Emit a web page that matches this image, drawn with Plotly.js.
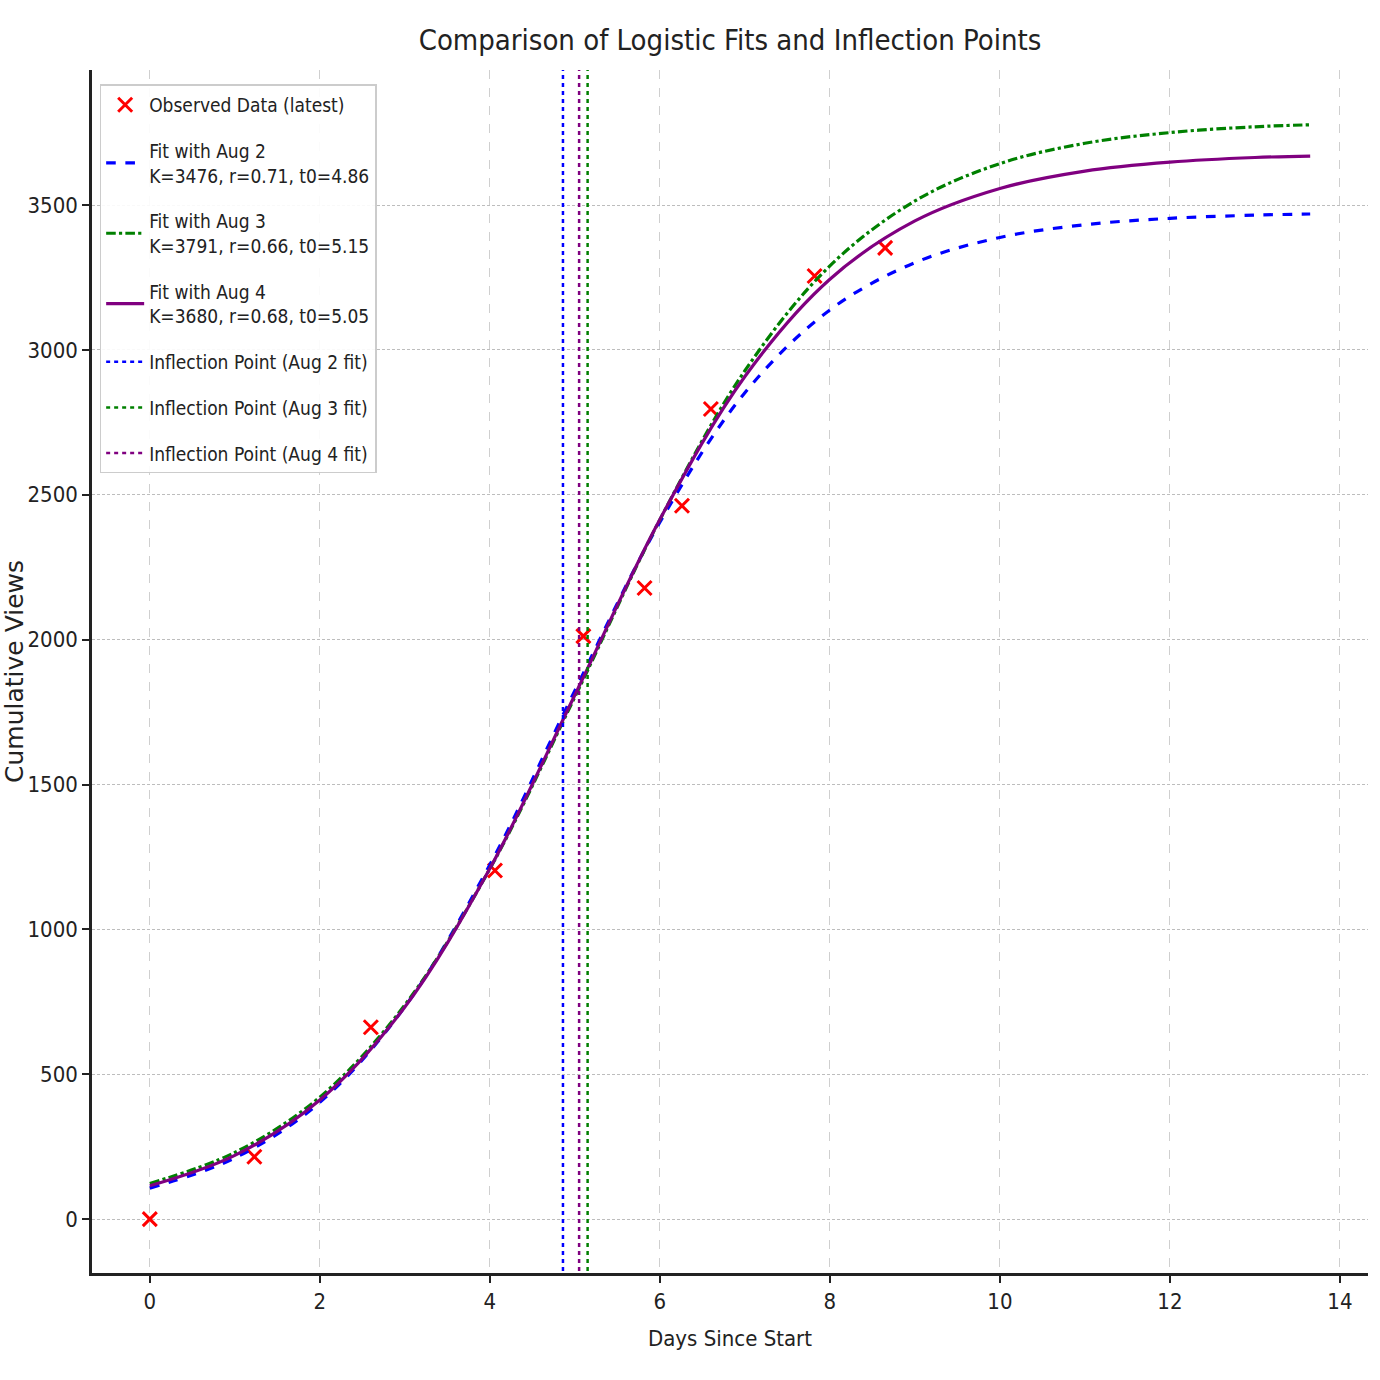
<!DOCTYPE html>
<html>
<head>
<meta charset="utf-8">
<script src="https://cdn.plot.ly/plotly-3.0.1.min.js"></script>
<style>
  body { margin: 0; background: #fff; }
  #myDiv { width: 1380px; height: 1380px; }
</style>
</head>
<body>
<div id="myDiv"></div>
<script>
// observed data (latest)
var obsDays = [0, 1.23, 2.6, 4.06, 5.1, 5.82, 6.26, 6.6, 7.82, 8.65];
var obsViews = [0, 215, 662, 1203, 2012, 2178, 2462, 2796, 3255, 3352];

// fitted curves
var fitDays = [0, 1, 2, 3, 4, 5, 6, 7, 8, 9, 10, 11, 12, 13, 13.65];
var fitAug2 = [107, 211, 403, 733, 1223, 1824, 2405, 2852, 3138, 3301, 3388, 3432, 3454, 3465, 3469];
var fitAug3 = [123, 230, 421, 739, 1209, 1802, 2414, 2928, 3290, 3514, 3643, 3713, 3750, 3770, 3777];
var fitAug4 = [115, 220, 411, 732, 1210, 1809, 2415, 2908, 3244, 3445, 3557, 3617, 3648, 3664, 3669];

var fitNames = ['Fit with Aug 2<br>K=3476, r=0.71, t0=4.86',
                'Fit with Aug 3<br>K=3791, r=0.66, t0=5.15',
                'Fit with Aug 4<br>K=3680, r=0.68, t0=5.05'];

// inflection points t0
var inflNames = ['Inflection Point (Aug 2 fit)', 'Inflection Point (Aug 3 fit)', 'Inflection Point (Aug 4 fit)'];
var inflDays = [4.86, 5.15, 5.05];
var inflSpan = [-400, 4200];

var xRange = [-0.68, 14.33];
var yRange = [-186, 3966];

var narrow = 'DejaVu Sans Condensed, Liberation Sans Narrow, sans-serif';

var plotData = [];

plotData.push({
  x: obsDays,
  y: obsViews,
  mode: 'markers',
  type: 'scatter',
  name: 'Observed Data (latest)',
  legendgroup: 'g0',
  marker: {
    symbol: 'x-thin',
    size: 14,
    color: 'red',
    line: { color: 'red', width: 3 }
  }
});

var fitColors = ['blue', 'green', 'purple'];
var fitDash = ['dash', 'dashdot', 'solid'];
var fitValues = [fitAug2, fitAug3, fitAug4];

for (var i = 0; i < 3; i++) {
  plotData.push({
    x: fitDays,
    y: fitValues[i],
    mode: 'lines',
    type: 'scatter',
    name: fitNames[i],
    legendgroup: 'f' + i,
    line: { color: fitColors[i], dash: fitDash[i], width: 3.2, shape: 'spline', smoothing: 1 }
  });
}

for (var j = 0; j < 3; j++) {
  plotData.push({
    x: [inflDays[j], inflDays[j]],
    y: inflSpan,
    mode: 'lines',
    type: 'scatter',
    name: inflNames[j],
    legendgroup: 'i' + j,
    line: { color: fitColors[j], dash: '4px,4px', width: 2.5 }
  });
}

var layout = {
  width: 1380,
  height: 1380,
  margin: { l: 92, r: 12, t: 70, b: 107 },
  paper_bgcolor: '#fff',
  plot_bgcolor: '#fff',
  font: { family: narrow, color: '#222' },
  title: {
    text: 'Comparison of Logistic Fits and Inflection Points',
    font: { family: narrow, size: 29, color: '#222' },
    xref: 'paper',
    x: 0.5,
    xanchor: 'center',
    y: 0.971,
    yanchor: 'middle'
  },
  showlegend: true,
  legend: {
    x: 0.006,
    y: 0.988,
    xanchor: 'left',
    yanchor: 'top',
    traceorder: 'grouped',
    bgcolor: 'rgba(255,255,255,0.9)',
    bordercolor: '#ccc',
    borderwidth: 1.5,
    font: { family: narrow, size: 19, color: '#222' },
    itemwidth: 38,
    tracegroupgap: 18
  },
  xaxis: {
    range: xRange,
    tickvals: [0, 2, 4, 6, 8, 10, 12, 14],
    showgrid: true,
    gridcolor: '#cfcfcf',
    griddash: 'dash',
    gridwidth: 1,
    zeroline: false,
    showline: true,
    linecolor: '#222',
    linewidth: 2.5,
    ticks: 'outside',
    ticklen: 7,
    tickwidth: 1.5,
    tickcolor: '#222',
    tickfont: { family: narrow, size: 22, color: '#222' },
    title: { text: 'Days Since Start', font: { family: narrow, size: 22, color: '#222' }, standoff: 18 }
  },
  yaxis: {
    range: yRange,
    tickvals: [0, 500, 1000, 1500, 2000, 2500, 3000, 3500],
    showgrid: true,
    gridcolor: '#bdbdbd',
    griddash: '3px,2px',
    gridwidth: 1,
    zeroline: false,
    showline: true,
    linecolor: '#222',
    linewidth: 2.5,
    ticks: 'outside',
    ticklen: 7,
    tickwidth: 1.5,
    tickcolor: '#222',
    tickfont: { family: narrow, size: 22, color: '#222' },
    title: { text: 'Cumulative Views', font: { family: 'DejaVu Sans, sans-serif', size: 25, color: '#222' }, standoff: 6 }
  }
};

Plotly.newPlot('myDiv', plotData, layout, { displayModeBar: false });
</script>
</body>
</html>
